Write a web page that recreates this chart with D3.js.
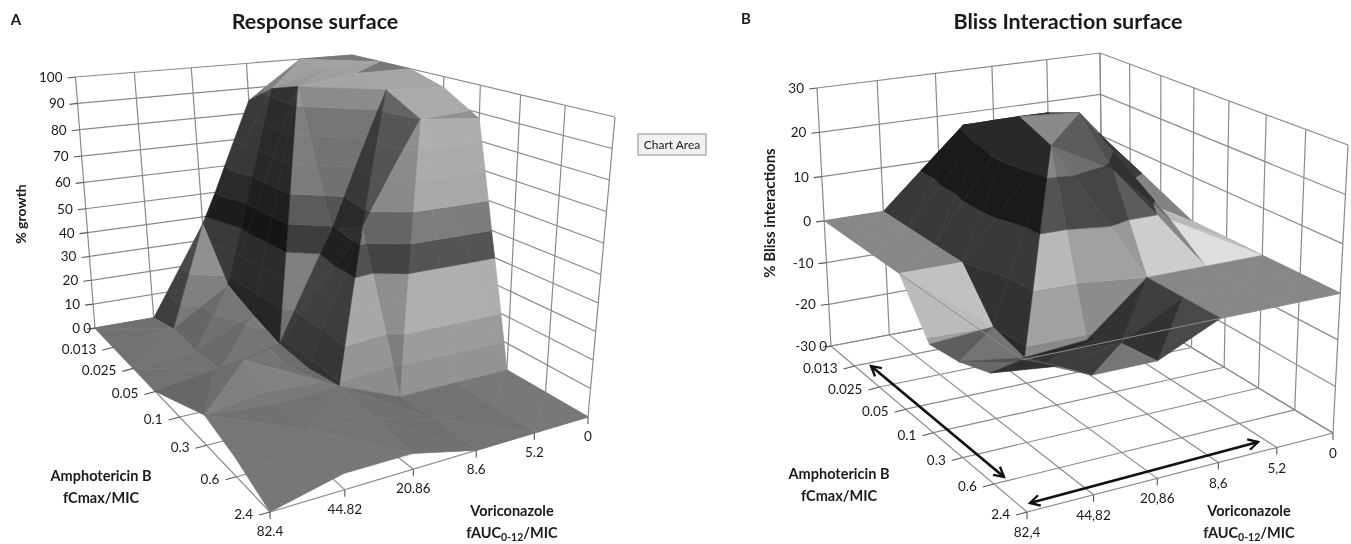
<!DOCTYPE html>
<html><head><meta charset="utf-8">
<script src="https://cdnjs.cloudflare.com/ajax/libs/d3/7.8.5/d3.min.js"></script>
<style>html,body{margin:0;padding:0;background:#fff}svg{display:block;filter:blur(.35px)}text{font-family:Lato,"Open Sans",sans-serif;fill:#1a1a1a}</style>
</head><body><svg id="c" width="1351" height="544"></svg>
<script>
const amphoTicks=["0","0.013","0.025","0.05","0.1","0.3","0.6","2.4"];
const voriTicksA=["0","5.2","8.6","20.86","44.82","82.4"];
const voriTicksB=["0","5,2","8,6","20,86","44,82","82,4"];
const growthTicks=[0,10,20,30,40,50,60,70,80,90,100];
const blissTicks=[-30,-20,-10,0,10,20,30];
// rows: amphotericin B level, columns: voriconazole level
const growth=[
 [100,100,85,37,0,0],
 [100,99,93,17,3,0],
 [100,100,97,12,2,0],
 [96,97,49,8,3,0],
 [88,90,55,7,15,5],
 [0,0,0,9,8,10],
 [0,0,1,7,9,6],
 [0,0,0,5,5,0]];
const bliss=[
 [0,0,10,8,0,0],
 [0,10,20,21,0,0],
 [0,17,25,25,0,0],
 [0,7,28,29,0,0],
 [0,6,19,26,-10,-11],
 [0,0,0,-11,-12,-10],
 [0,0,0,-7,-9,-7.5],
 [0,0,0,-6,-6,0]];
const growthBandTone=[.47,.50,.56,.56,.27,.40,.54,.55,.56,.66];
const blissBandTone=[.5,.46,.54,.62,.28,.45];

const svg=d3.select("#c");
function quadMap(p0,p1,p2,p3){ // (0,0),(1,0),(1,1),(0,1)
  const dx1=p1[0]-p2[0],dx2=p3[0]-p2[0],sx=p0[0]-p1[0]+p2[0]-p3[0];
  const dy1=p1[1]-p2[1],dy2=p3[1]-p2[1],sy=p0[1]-p1[1]+p2[1]-p3[1];
  const den=dx1*dy2-dx2*dy1;
  const g=(sx*dy2-dx2*sy)/den,h=(dx1*sy-sx*dy1)/den;
  const A=p1[0]-p0[0]+g*p1[0],B=p3[0]-p0[0]+h*p3[0],C=p0[0];
  const D=p1[1]-p0[1]+g*p1[1],E=p3[1]-p0[1]+h*p3[1],F=p0[1];
  return (u,v)=>{const w=g*u+h*v+1;return[(A*u+B*v+C)/w,(D*u+E*v+F)/w];};
}
function panel(o){
  const g=svg.append("g");
  const aS=d3.scalePoint().domain(o.aTicks).range([0,1]);
  const bS=d3.scalePoint().domain(o.bTicks).range([0,1]);
  const zS=d3.scaleLinear().domain(o.zDom).range(o.zRange);
  const floor=quadMap(o.fB,o.fR,o.fN,o.fL), top=quadMap(o.tB,o.tR,o.tN,o.tL);
  const P=(u,v,z)=>{const f=floor(u,v),t=top(u,v),w=zS(z);return[f[0]+(t[0]-f[0])*w,f[1]+(t[1]-f[1])*w];};
  const zMin=o.zDom[0], zMax=o.zDom[o.zDom.length-1];
  const line=d3.line();
  const grid=g.append("g").attr("fill","none").attr("stroke",o.gridColor).attr("stroke-width",1.2);
  const seg=(pts)=>grid.append("path").attr("d",line(pts));
  o.zTicks.forEach(z=>seg([P(0,1,z),P(0,0,z),P(1,0,z)]));
  o.bTicks.forEach(b=>{const v=bS(b);seg([P(0,v,zMin),P(0,v,zMax)]);seg([P(0,v,zMin),P(1,v,zMin)]);});
  o.aTicks.forEach(a=>{const u=aS(a);seg([P(u,0,zMin),P(u,0,zMax)]);seg([P(u,0,zMin),P(u,1,zMin)]);});
  const vtx=(i,j)=>({u:aS(o.aTicks[i]),v:bS(o.bTicks[j]),z:o.values[i][j],i,j});
  const surf=g.append("g");
  const bands=d3.pairs(o.zTicks);
  function clip(tri,lo,hi){
    const cut=(poly,inside,t)=>{const r=[];poly.forEach((p,k)=>{const q=poly[(k+1)%poly.length];const pi=inside(p.z),qi=inside(q.z);
      if(pi)r.push(p);
      if(pi!==qi){const s=(t-p.z)/(q.z-p.z);r.push({u:p.u+(q.u-p.u)*s,v:p.v+(q.v-p.v)*s,z:t});}});return r;};
    let poly=cut(tri,z=>z>=lo,lo); if(poly.length) poly=cut(poly,z=>z<=hi,hi); return poly;
  }
  function drawTri(t){
    const [p,q,r]=t;
    const sa=o.aTicks.length-1,sb=o.bTicks.length-1,sz=o.zWorld/(zMax-zMin);
    const e1=[(q.u-p.u)*sa,(q.v-p.v)*sb,(q.z-p.z)*sz],e2=[(r.u-p.u)*sa,(r.v-p.v)*sb,(r.z-p.z)*sz];
    let n=[e1[1]*e2[2]-e1[2]*e2[1],e1[2]*e2[0]-e1[0]*e2[2],e1[0]*e2[1]-e1[1]*e2[0]];
    if(n[2]<0)n=n.map(x=>-x);
    const len=Math.hypot(...n);n=n.map(x=>x/len);
    const nb=n[1];
    const f=Math.max(o.fMin,o.f0+o.la*n[0]+o.lz*(n[2]-1)-o.lb*Math.pow(Math.max(nb,0),o.pb)-o.lc*Math.max(-nb,0)-o.lx*Math.min(Math.max(n[0],0),Math.max(-nb,0)));
    const flat=t.every(x=>x.z===t[0].z);
    if(flat){
      const c=d3.rgb(255*o.flatTone,255*o.flatTone,255*o.flatTone);
      surf.append("path").attr("d",line(t.map(x=>P(x.u,x.v,x.z)))+"Z").attr("fill",c).attr("stroke",c).attr("stroke-width",.6);
      return;
    }
    bands.forEach((bd,k)=>{
      const poly=clip(t,bd[0],bd[1]);
      if(poly.length<3)return;
      const area=Math.abs(d3.polygonArea(poly.map(x=>P(x.u,x.v,x.z))));
      if(area<.01)return;
      const L=Math.max(.05,Math.min(.9,o.tones[k]*f));
      const c=d3.rgb(255*L,255*L,255*L);
      surf.append("path").attr("d",line(poly.map(x=>P(x.u,x.v,x.z)))+"Z").attr("fill",c).attr("stroke",c).attr("stroke-width",.6).attr("stroke-linejoin","round");
    });
  }
  const cells=[];
  for(let i=0;i<o.aTicks.length-1;i++)for(let j=0;j<o.bTicks.length-1;j++)cells.push([i,j]);
  cells.sort((x,y)=>(x[0]+x[1])-(y[0]+y[1]));
  cells.forEach(([i,j])=>{
    const A=vtx(i,j),B=vtx(i+1,j),C=vtx(i+1,j+1),D=vtx(i,j+1);
    if(A.z+C.z>=B.z+D.z){drawTri([A,B,C]);drawTri([A,C,D]);}
    else{drawTri([A,B,D]);drawTri([B,C,D]);}
  });
  if(o.rim){
    g.append("path").attr("fill","none").attr("stroke","#8d8d8d").attr("stroke-width",1)
     .attr("d",line([P(aS(o.aTicks[o.rimStart]),1,0),P(1,1,0),P(1,0,0)]));
  }
  const ax=g.append("g");
  const tick=(a,b)=>ax.append("path").attr("d",line([a,b])).attr("stroke","#555").attr("stroke-width",1.1).attr("fill","none");
  const txt=(x,y,s,anchor,fs)=>ax.append("text").attr("x",x).attr("y",y).attr("text-anchor",anchor||"middle").attr("font-size",fs||13.5).text(s);
  o.zTicks.forEach(z=>{const p=P(0,1,z);tick([p[0]-8,p[1]+1],p);txt(p[0]-(z===zMin?15:13),p[1]+5,z,"end");});
  o.aTicks.forEach((a,k)=>{const p=P(aS(a),1,zMin);
    if(k===0){tick([p[0]-4,p[1]+1],p);txt(p[0]-4,p[1]+5,a,"end");}
    else{tick([p[0]-11,p[1]+3],p);txt(p[0]-17,p[1]+7,a,"end");}});
  o.bTicks.forEach(b=>{const p=P(1,bS(b),zMin);tick(p,[p[0],p[1]+7]);txt(p[0],p[1]+o.bLab,b);});
}
panel({aTicks:amphoTicks,bTicks:voriTicksA,zTicks:growthTicks,zDom:[0,50,100],zRange:[0,.475,1],values:growth,tones:growthBandTone,
 fB:[356,283],fR:[588,417],fN:[270,512],fL:[95,328],
 tB:[352,55],tR:[615,117],tN:[246,156],tL:[75.5,77],
 f0:.96,la:.28,lz:0,lb:.78,pb:2,lc:.2,lx:0,fMin:.3,zWorld:3,flatTone:.47,gridColor:"#8a8a8a",bLab:24});
panel({aTicks:amphoTicks,bTicks:voriTicksB,zTicks:blissTicks,zDom:[-30,0,30],zRange:[0,.485,1],values:bliss,tones:blissBandTone,
 fB:[1103,294],fR:[1333,433],fN:[1027,512],fL:[831,346],
 tB:[1100,53],tR:[1348,145],tN:[1018,198],tL:[817,88],
 f0:1,la:1,lz:1,lb:.4,pb:1,lc:-.7,lx:1.5,fMin:.36,zWorld:8,flatTone:.53,gridColor:"#8a8a8a",bLab:25,rim:true,rimStart:3});

const lab=(x,y,s,fs)=>svg.append("text").attr("x",x).attr("y",y).attr("text-anchor","middle").attr("font-weight",700).attr("font-size",fs||14.5).text(s);
lab(315,29,"Response surface",21.5);lab(1068,29,"Bliss Interaction surface",21.5);
lab(16,25,"A",15);lab(746,24,"B",15);
svg.append("text").attr("transform","translate(26,214) rotate(-90)").attr("text-anchor","middle").attr("font-weight",700).attr("font-size",14).text("% growth");
svg.append("text").attr("transform","translate(775,213) rotate(-90)").attr("text-anchor","middle").attr("font-weight",700).attr("font-size",15).text("% Bliss interactions");
lab(101,481,"Amphotericin B");lab(101,503,"fCmax/MIC");
lab(839,479,"Amphotericin B");lab(839,501,"fCmax/MIC");
function auc(x,y){const t=svg.append("text").attr("x",x).attr("y",y).attr("text-anchor","middle").attr("font-weight",700).attr("font-size",14.5);
 t.append("tspan").text("fAUC");t.append("tspan").attr("dy",3).attr("font-size",10.5).text("0-12");t.append("tspan").attr("dy",-3).text("/MIC");}
lab(512,516,"Voriconazole");auc(512,538);
lab(1249,516,"Voriconazole");auc(1249,538);
const defs=svg.append("defs");
defs.append("marker").attr("id","ah").attr("viewBox","0 0 12 12").attr("refX",10).attr("refY",6).attr("markerWidth",13).attr("markerHeight",13).attr("markerUnits","userSpaceOnUse").attr("orient","auto-start-reverse")
 .append("path").attr("d","M1,1L10,6L1,11").attr("fill","none").attr("stroke","#111").attr("stroke-width",2.2);
[[[871,366],[1004,477]],[[1030,503],[1258,442]]].forEach(s=>svg.append("path").attr("d",d3.line()(s)).attr("stroke","#111").attr("stroke-width",2.7).attr("fill","none").attr("marker-start","url(#ah)").attr("marker-end","url(#ah)"));
svg.append("rect").attr("x",638).attr("y",134).attr("width",68).attr("height",21).attr("fill","#f1f1f1").attr("stroke","#8c8c8c");
svg.append("text").attr("x",672).attr("y",149).attr("text-anchor","middle").attr("font-size",12).text("Chart Area");
</script></body></html>
